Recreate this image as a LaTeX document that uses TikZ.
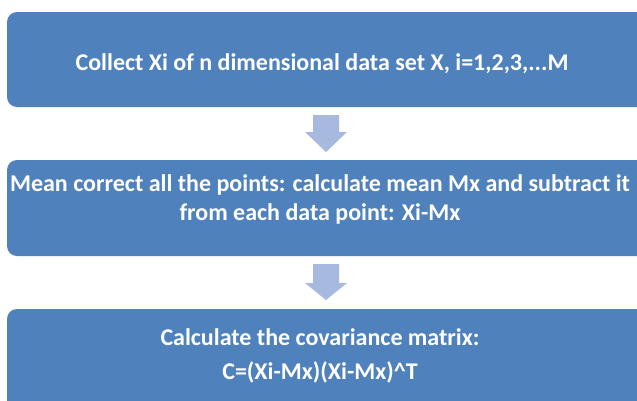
\documentclass[tikz,border=0pt]{standalone}
\usepackage{fontspec}
\setmainfont{Carlito}
\usetikzlibrary{calc}
\definecolor{boxblue}{HTML}{4F81BD}
\definecolor{arrowblue}{HTML}{A7B9DF}
\begin{document}
\begin{tikzpicture}[x=1pt,y=-1pt,
  stepbox/.style={fill=boxblue, draw=none, rounded corners=10pt, anchor=north west,
    minimum width=680pt, inner sep=0pt, outer sep=0pt},
  steptext/.style={text=white, font=\bfseries\fontsize{24}{29}\selectfont, align=center, inner sep=0pt},
  blockarrow/.style={fill=arrowblue, draw=none}]
\useasboundingbox (0,0) rectangle (637,400);
\clip (0,0) rectangle (637,400);
\fill[white] (0,0) rectangle (637,400);
% boxes
\node[stepbox, minimum height=95pt] (b1) at (7,12) {};
\node[stepbox, minimum height=96pt] (b2) at (7,160) {};
\node[stepbox, minimum height=120pt] (b3) at (7,309) {};
% texts
\node[steptext] (t1) at (322,64) {Collect Xi of n dimensional data set X, i=1,2,3,...M};
\node[steptext] (t2) at (320,199) {Mean correct all the points: calculate mean Mx and subtract it\\from each data point: Xi-Mx};
\node[steptext] (t3) at (320,356) {Calculate the covariance matrix:\\[5pt]C=(Xi-Mx)(Xi-Mx)\^{}T};
% block arrows
\coordinate (a1s) at ($(326,0 |- b1.south)+(0,8)$);
\coordinate (a2s) at ($(326,0 |- b2.south)+(0,8)$);
\fill[blockarrow] ($(a1s)+(-13,0)$) -- ($(a1s)+(13,0)$) -- ($(a1s)+(13,17)$) -- ($(a1s)+(21,17)$)
  -- ($(a1s)+(0,37)$) -- ($(a1s)+(-21,17)$) -- ($(a1s)+(-13,17)$) -- cycle;
\fill[blockarrow] ($(a2s)+(-13,0)$) -- ($(a2s)+(13,0)$) -- ($(a2s)+(13,19)$) -- ($(a2s)+(21,19)$)
  -- ($(a2s)+(0,36)$) -- ($(a2s)+(-21,19)$) -- ($(a2s)+(-13,19)$) -- cycle;
\end{tikzpicture}
\end{document}
